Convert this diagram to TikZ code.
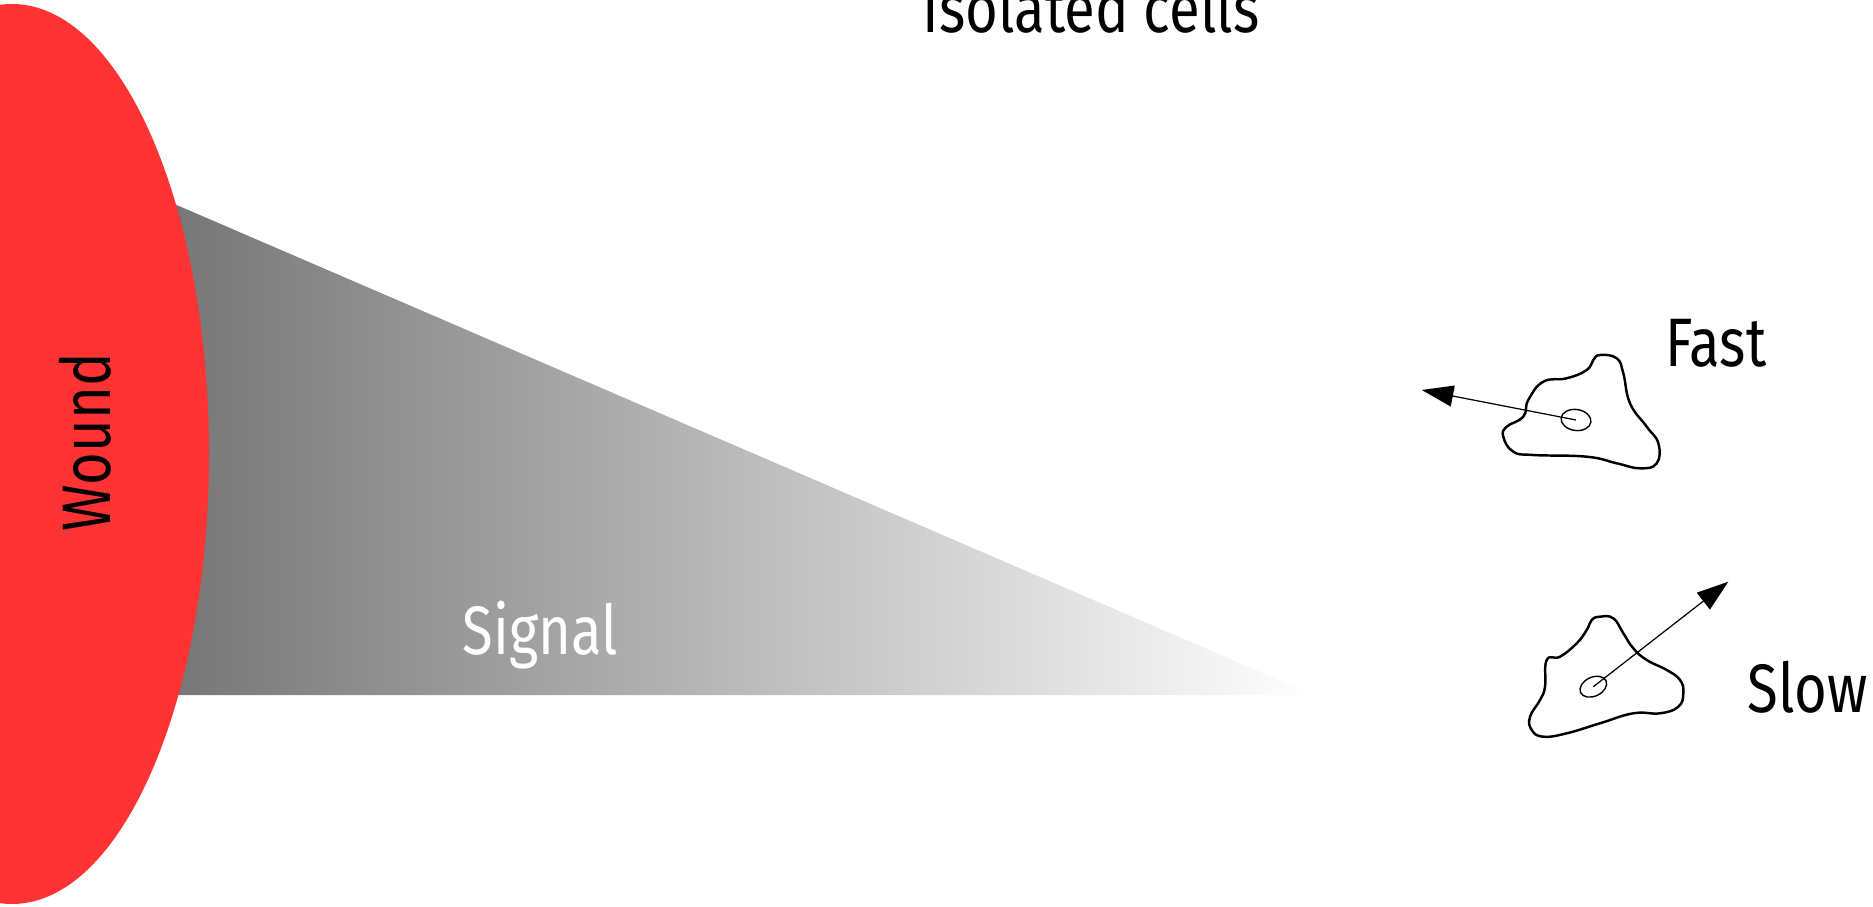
\documentclass[tikz,border=0pt]{standalone}
\usepackage{fontspec}
\setmainfont{Fira Sans}[FakeStretch=0.82]
\usetikzlibrary{arrows.meta, shapes.geometric}
\definecolor{woundred}{RGB}{255,51,51}

\begin{document}
\begin{tikzpicture}[x=0.01cm, y=-0.01cm,
		lbl/.style={font=\fontsize{19.5}{22}\selectfont, inner sep=0pt},
		cell/.style={draw=black, line width=0.7pt},
		nucleus/.style={ellipse, draw=black, line width=0.4pt, minimum width=0.3cm, minimum height=0.21cm, inner sep=0pt},
		move/.style={line width=0.35pt, -{Triangle[length=9pt, width=6pt]}}]
		\useasboundingbox (0,0) rectangle (1873,907);

		% signal gradient behind the wound
		\shade[left color=black!57, right color=white] (100,172) -- (1314,695) -- (100,695) -- cycle;
		\fill[woundred] (12,454) ellipse [x radius=197, y radius=450];

		\node[lbl, rotate=90, anchor=base west] (wound) at (110,532) {Wound};
		\node[lbl, white, anchor=base west] (signal) at (462,655) {Signal};
		\node[lbl, anchor=base] (title) at (1091,33) {Isolated cells};
		\node[lbl, anchor=base west] (fast) at (1665,367) {Fast};
		\node[lbl, anchor=base west] (slow) at (1747,712) {Slow};

		% fast cell
		\draw[cell] plot[smooth cycle, tension=0.75] coordinates {(1600,355) (1616.7,358.3) (1623.3,373.3) (1630,403.3) (1646.7,426.7) (1658.3,443.3) (1656.7,463.3) (1640,468.3) (1616.7,463.3) (1586.7,456.7) (1533.3,455) (1513.3,451.7) (1503.3,436.7) (1506.7,426.7) (1523.3,416.7) (1528.3,400) (1543.3,381.7) (1566.7,378.3) (1586.7,370) (1593.3,360)};
		\node[nucleus, rotate=-8] (fastnuc) at (1576,420) {};
		\coordinate (fastend) at (1421.7,390);

		% slow cell
		\draw[cell] plot[smooth cycle, tension=0.75] coordinates {(1600,616.7) (1613.3,618.3) (1623.3,633.3) (1633.3,648.3) (1646.7,660) (1666.7,670) (1680,680) (1683.3,693.3) (1678.3,706.7) (1660,713.3) (1633.3,713.3) (1600,723.3) (1566.7,733.3) (1543.3,736.7) (1531.7,730) (1530,716.7) (1540,700) (1545,686.7) (1546.7,660) (1560,656.7) (1576.7,643.3) (1586.7,630) (1591.7,620)};
		\node[nucleus, rotate=25, minimum width=0.28cm, minimum height=0.19cm] (slownuc) at (1593.3,686.7) {};
		\coordinate (slowend) at (1728.3,581.7);

		\draw[move] (fastnuc.center) -- (fastend);
		\draw[move] (slownuc.center) -- (slowend);
	\end{tikzpicture}
\end{document}
